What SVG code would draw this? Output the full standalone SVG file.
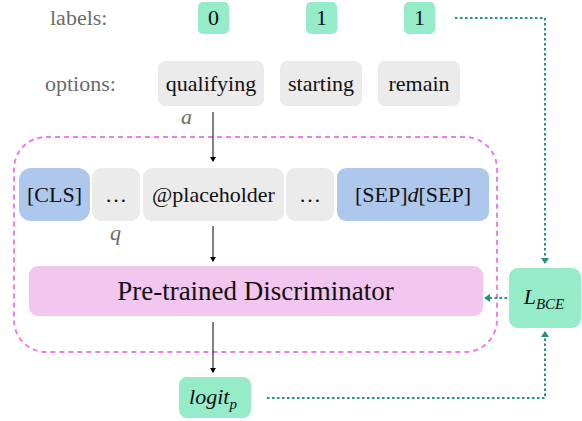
<svg xmlns="http://www.w3.org/2000/svg" width="582" height="421" viewBox="0 0 582 421" font-family="'Liberation Serif', 'Times New Roman', serif">
<defs>
<marker id="ab" markerWidth="8" markerHeight="8" refX="4" refY="4" orient="auto" markerUnits="userSpaceOnUse"><path d="M0,1 L5,4 L0,7 Z" fill="#000"/></marker>
<style>
text{fill:#111;font-family:"Liberation Serif","Times New Roman",serif}
.lab{fill:#6b6b6b;font-size:22px}
.t{font-size:22px;text-anchor:middle}
.green{fill:#96ebc9}
.gray{fill:#ebebeb}
.blue{fill:#adc8ec}
.pink{fill:#f1c6ef}
.ar{stroke:#000;stroke-width:1;fill:none;marker-end:url(#ab)}
.dt{stroke:#23917f;stroke-width:2;stroke-dasharray:2.5 2.5;fill:none}
.it{font-style:italic}
</style>
</defs>
<text class="lab" x="50" y="25">labels:</text>
<text class="lab" x="45" y="91">options:</text>
<g id="label0"><rect class="green" x="198" y="2" width="31" height="32" rx="5"/><text class="t" x="213.5" y="25">0</text></g>
<g id="label1a"><rect class="green" x="306" y="2" width="31" height="32" rx="5"/><text class="t" x="321.5" y="25">1</text></g>
<g id="label1b"><rect class="green" x="404" y="2" width="31" height="32" rx="5"/><text class="t" x="419.5" y="25">1</text></g>
<g id="opt-qualifying"><rect class="gray" x="158" y="61" width="106" height="45" rx="7"/><text class="t" x="211" y="91">qualifying</text></g>
<g id="opt-starting"><rect class="gray" x="280" y="61" width="82" height="45" rx="7"/><text class="t" x="321" y="91">starting</text></g>
<g id="opt-remain"><rect class="gray" x="378" y="61" width="82" height="45" rx="7"/><text class="t" x="419" y="91">remain</text></g>
<text class="lab it" x="181" y="124">a</text>
<g id="input-box"><rect x="14" y="137" width="483" height="215" rx="32" fill="none" stroke="#e97fe8" stroke-width="2" stroke-dasharray="5 4"/></g>
<g id="tok-cls"><rect class="blue" x="19" y="168" width="71" height="53" rx="12"/><text class="t" x="54.5" y="202">[CLS]</text></g>
<g id="tok-dots1"><rect class="gray" x="92" y="168" width="48" height="53" rx="9"/><text class="t" x="116" y="202">…</text></g>
<g id="tok-placeholder"><rect class="gray" x="143" y="168" width="141" height="53" rx="9"/><text class="t" x="213.5" y="202">@placeholder</text></g>
<g id="tok-dots2"><rect class="gray" x="286" y="168" width="48" height="53" rx="9"/><text class="t" x="310" y="202">…</text></g>
<g id="tok-sep"><rect class="blue" x="337" y="168" width="152" height="53" rx="9"/><text class="t" x="413" y="202">[SEP]<tspan class="it">d</tspan>[SEP]</text></g>
<text class="lab it" x="110" y="240">q</text>
<g id="discriminator"><rect class="pink" x="29" y="266" width="454" height="50" rx="9"/><text x="255.5" y="300" text-anchor="middle" font-size="27">Pre-trained Discriminator</text></g>
<g id="logit"><rect class="green" x="179" y="377" width="72" height="41" rx="8"/><text class="t it" x="213" y="404">logit<tspan font-size="15" dy="5">p</tspan></text></g>
<g id="lbce"><rect class="green" x="509" y="268" width="72" height="60" rx="9"/><text class="t it" x="544" y="304">L<tspan font-size="15" dy="5">BCE</tspan></text></g>
<g id="connectors">
<line class="ar" x1="213" y1="112" x2="213" y2="161"/>
<line class="ar" x1="213" y1="226" x2="213" y2="261"/>
<line class="ar" x1="213" y1="322" x2="213" y2="372"/>
<path class="dt" d="M455,18 H545 V260"/>
<path d="M541,258 L545,264 L549,258 Z" fill="#23917f"/>
<path class="dt" d="M267,398 H545 V336"/>
<path d="M541,337 L545,331 L549,337 Z" fill="#23917f"/>
<path class="dt" d="M507,298 H490"/>
<path d="M490,294 L484,298 L490,302 Z" fill="#23917f"/>
</g>
</svg>
